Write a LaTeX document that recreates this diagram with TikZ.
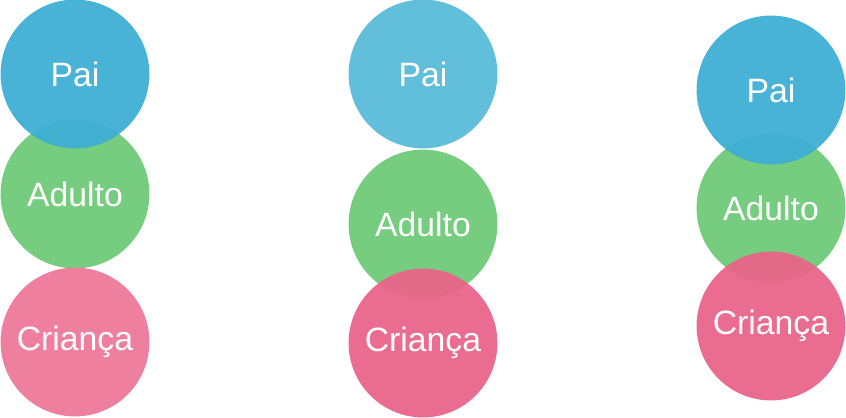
\documentclass[tikz,border=0pt]{standalone}
\usepackage{fontspec}
\setmainfont{Liberation Sans}
\usepackage{tikz}
\usetikzlibrary{shapes.geometric}

\definecolor{paiblue}{HTML}{3EAFD5}
\definecolor{paibluelight}{HTML}{59BCDA}
\definecolor{adultgreen}{HTML}{6FC978}
\definecolor{childpink}{HTML}{EE7899}
\definecolor{childpinkdark}{HTML}{E9648A}

\tikzset{
  ego/.style={circle, minimum size=3.72cm, inner sep=0pt, fill opacity=0.95,
    text opacity=1, text=white, font=\fontsize{24}{28}\selectfont}
}

\begin{document}
\begin{tikzpicture}[x=0.025cm, y=-0.025cm]
        % Frame of the picture
        \useasboundingbox (0,0) rectangle (846,418);

        % First column: Pai over Adulto
        \node[ego, fill=adultgreen] (adulto1) at (75,194) {Adulto};
        \node[ego, fill=paiblue] (pai1) at (75,74) {Pai};
        \node[ego, fill=childpink] (crianca1) at (75,342) {Criança};

        % Second column: Criança over Adulto
        \node[ego, fill=paibluelight] (pai2) at (423,74) {Pai};
        \node[ego, fill=adultgreen] (adulto2) at (423,224) {Adulto};
        \node[ego, fill=childpinkdark] (crianca2) at (423,343) {Criança};

        % Third column: all three overlapping
        \node[ego, fill=adultgreen] (adulto3) at (771,208) {Adulto};
        \node[ego, fill=paiblue] (pai3) at (771,90) {Pai};
        \node[ego, fill=childpinkdark] (crianca3) at (771,326) {Criança};
    \end{tikzpicture}
\end{document}
